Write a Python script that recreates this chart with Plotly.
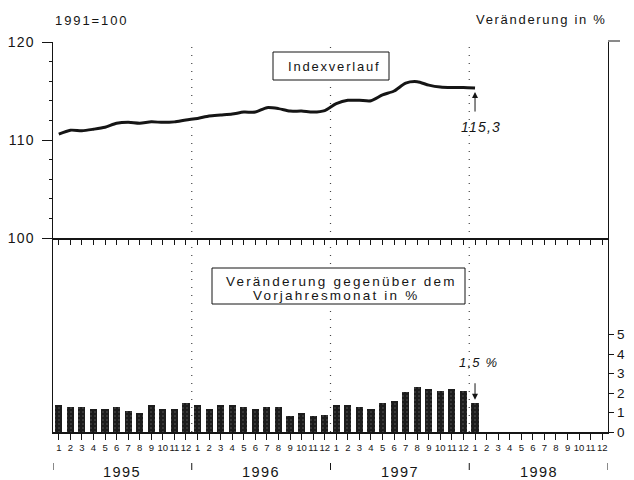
import plotly.graph_objects as go

# ---------------- data ----------------
years = ["1995", "1996", "1997", "1998"]
month_labels = [str(m) for m in range(1, 13)]

# Index 1991=100, Jan 1995 .. Jan 1998
index_values = [
    110.6, 111.0, 110.95, 111.1, 111.3, 111.7, 111.8, 111.7, 111.85, 111.8, 111.85, 112.05,
    112.2, 112.45, 112.55, 112.65, 112.85, 112.85, 113.3, 113.2, 112.95, 112.95, 112.85, 113.0,
    113.7, 114.05, 114.05, 114.0, 114.6, 115.0, 115.8, 115.95, 115.6, 115.4, 115.35, 115.35,
    115.3,
]
# change vs. same month of previous year, %
change_values = [
    1.4, 1.3, 1.3, 1.2, 1.2, 1.3, 1.1, 1.0, 1.4, 1.2, 1.2, 1.5,
    1.4, 1.2, 1.4, 1.4, 1.3, 1.2, 1.3, 1.3, 0.8, 1.0, 0.8, 0.85,
    1.4, 1.4, 1.3, 1.2, 1.5, 1.6, 2.05, 2.3, 2.2, 2.1, 2.2, 2.1,
    1.5,
]
last_index_label = "115,3"
last_change_label = "1,5 %"

n_months = 12 * len(years)
x_all = list(range(n_months))
x_data = list(range(len(index_values)))
tick_text = month_labels * len(years)

# ---------------- layout geometry (pixels) ----------------
W, H = 634, 480
L, R, T, B = 53, 26, 42, 48
PW, PH = W - L - R, H - T - B

def px_x(p):
    return (p - L) / PW

def px_y(p):
    return (H - B - p) / PH

FONT = "Liberation Sans, Arial, sans-serif"
INK = "#151515"

def spaced(text, s):
    return f'<span style="letter-spacing:{s}px">{text}</span>'

# y1: 120 at top (px 42), 100 at px 238
px_per_unit = (238 - 42) / 20.0
y1_min = 100 - (H - B - 238) / px_per_unit
y1_range = [y1_min, 120]
pos100 = (100 - y1_min) / (120 - y1_min)

# y2: 1 % = 19.5 px
y2_range = [0, PH / 19.5]

fig = go.Figure()

fig.add_trace(go.Bar(
    x=x_data, y=change_values, yaxis="y2", xaxis="x",
    width=0.62,
    marker=dict(color="#1c1c1c", line=dict(width=0),
                pattern=dict(shape=".", fgcolor="#9a9a9a", bgcolor="#1c1c1c",
                             size=4, solidity=0.12)),
    hoverinfo="skip",
))

fig.add_trace(go.Scatter(
    x=x_data, y=index_values, yaxis="y", xaxis="x",
    mode="lines", line=dict(color=INK, width=3, shape="spline", smoothing=0.7),
    hoverinfo="skip",
))

shapes = []
# dotted year separators
for k in range(1, len(years)):
    xb = 12 * k - 0.5
    shapes.append(dict(type="line", xref="x", yref="paper", x0=xb, x1=xb, y0=0, y1=1,
                       line=dict(color="#444", width=1.2, dash="1px,7px"), layer="below"))
# small year marks below the month labels
for k in range(len(years) + 1):
    xb = 12 * k - 0.5
    shapes.append(dict(type="line", xref="x", yref="paper", x0=xb, x1=xb,
                       y0=px_y(463), y1=px_y(470), line=dict(color=INK, width=1)))
# small tick at the top of right axis
shapes.append(dict(type="line", xref="paper", yref="paper", x0=1, x1=px_x(620),
                   y0=px_y(41), y1=px_y(41), line=dict(color=INK, width=1)))
# text boxes
shapes.append(dict(type="rect", xref="paper", yref="paper",
                   x0=px_x(273), x1=px_x(389), y0=px_y(80), y1=px_y(52),
                   line=dict(color=INK, width=1), fillcolor="white"))
shapes.append(dict(type="rect", xref="paper", yref="paper",
                   x0=px_x(212), x1=px_x(465), y0=px_y(304), y1=px_y(268),
                   line=dict(color=INK, width=1), fillcolor="white"))

annotations = [
    dict(text=spaced("1991=100", 1.9), xref="paper", yref="paper", x=0, y=px_y(21),
         xanchor="left", yanchor="middle", showarrow=False, font=dict(size=13)),
    dict(text=spaced("Veränderung in %", 1.7), xref="paper", yref="paper", x=px_x(609), y=px_y(20),
         xanchor="right", yanchor="middle", showarrow=False, font=dict(size=13)),
    dict(text=spaced("Indexverlauf", 1.8), xref="paper", yref="paper", x=px_x(334), y=px_y(66),
         xanchor="center", yanchor="middle", showarrow=False, font=dict(size=13)),
    dict(text=spaced("Veränderung gegenüber dem", 2.2), xref="paper", yref="paper",
         x=px_x(341), y=px_y(281), xanchor="center", yanchor="middle", showarrow=False,
         font=dict(size=13.5)),
    dict(text=spaced("Vorjahresmonat in %", 2.2), xref="paper", yref="paper",
         x=px_x(336), y=px_y(295), xanchor="center", yanchor="middle", showarrow=False,
         font=dict(size=13.5)),
    # value labels
    dict(text=spaced(f"<i>{last_index_label}</i>", 1.2), xref="paper", yref="paper",
         x=px_x(481), y=px_y(127), xanchor="center", yanchor="middle", showarrow=False,
         font=dict(size=14)),
    dict(text=spaced(f"<i>{last_change_label}</i>", 1.2), xref="paper", yref="paper",
         x=px_x(478), y=px_y(362), xanchor="center", yanchor="middle", showarrow=False,
         font=dict(size=13)),
    # arrows
    dict(text="", x=x_data[-1], y=index_values[-1], xref="x", yref="y",
         ax=0, ay=25, showarrow=True, arrowhead=2, arrowsize=1.2, arrowwidth=1,
         arrowcolor=INK, standoff=4),
    dict(text="", x=x_data[-1], y=change_values[-1], xref="x", yref="y2",
         ax=0, ay=-21, showarrow=True, arrowhead=2, arrowsize=1.2, arrowwidth=1,
         arrowcolor=INK, standoff=3),
]
for k, yr in enumerate(years):
    annotations.append(dict(text=spaced(yr, 1.4), xref="x", yref="paper", x=12 * k + 5.5,
                            y=px_y(472), xanchor="center", yanchor="middle",
                            showarrow=False, font=dict(size=14.5)))

fig.update_layout(
    width=W, height=H,
    margin=dict(l=L, r=R, t=T, b=B, pad=0, autoexpand=False),
    paper_bgcolor="white", plot_bgcolor="white",
    font=dict(family=FONT, color=INK),
    showlegend=False,
    bargap=0,
    xaxis=dict(
        domain=[0, 1], range=[-0.5, n_months - 0.5], anchor="y", automargin=False,
        tickmode="array", tickvals=x_all, ticktext=tick_text,
        ticks="outside", ticklen=6, tickwidth=1, tickcolor=INK,
        tickfont=dict(size=9.5), tickangle=0,
        showline=True, linecolor=INK, linewidth=1.5,
        showgrid=False, zeroline=False, fixedrange=True,
    ),
    xaxis2=dict(
        overlaying="x", range=[-0.5, n_months - 0.5], anchor="free", position=pos100,
        side="bottom", automargin=False,
        tickmode="array", tickvals=x_all, showticklabels=False,
        ticks="outside", ticklen=5, tickwidth=1, tickcolor=INK,
        showline=True, linecolor=INK, linewidth=1.5,
        showgrid=False, zeroline=False,
    ),
    yaxis=dict(
        domain=[0, 1], range=y1_range, anchor="x", automargin=False,
        tickmode="array", tickvals=[100, 110, 120],
        ticktext=[spaced(v, 1.2) for v in ["100", "110", "120"]],
        ticks="outside", ticklen=10, tickwidth=1, tickcolor=INK,
        ticklabelstandoff=4,
        minor=dict(tickmode="array", tickvals=list(range(100, 121, 2)),
                   ticks="outside", ticklen=3, tickcolor=INK, tickwidth=1),
        tickfont=dict(size=14),
        showline=True, linecolor=INK, linewidth=1.5,
        showgrid=False, zeroline=False,
    ),
    yaxis2=dict(
        overlaying="y", side="right", anchor="x", range=y2_range, automargin=False,
        tickmode="array", tickvals=[0, 1, 2, 3, 4, 5],
        ticks="outside", ticklen=5, tickwidth=1, tickcolor=INK,
        tickfont=dict(size=13.5),
        showline=True, linecolor=INK, linewidth=1.2,
        showgrid=False, zeroline=False,
    ),
    shapes=shapes,
    annotations=annotations,
)

# dummy trace on xaxis2 so it is rendered
fig.add_trace(go.Scatter(x=[0], y=[None], xaxis="x2", yaxis="y", mode="markers",
                         showlegend=False, hoverinfo="skip"))

fig.write_html("out.html",
               config={"displayModeBar": False, "staticPlot": True},
               post_script="document.body.style.margin='0';document.body.style.overflow='hidden';")
